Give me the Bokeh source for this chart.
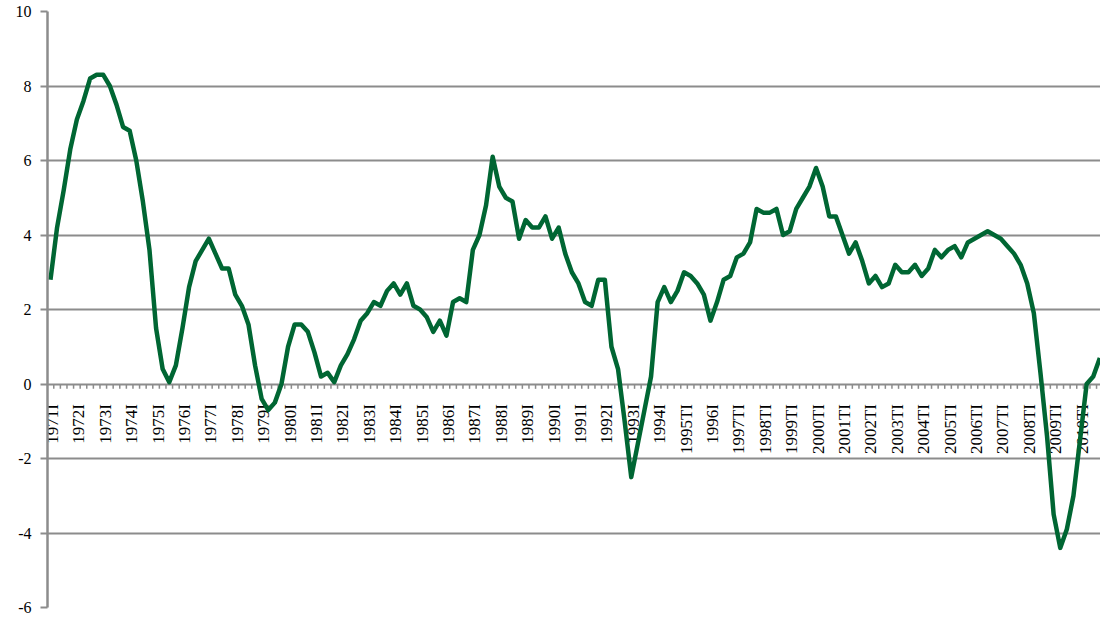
import numpy as np
from bokeh.plotting import figure
from bokeh.models import FixedTicker, Range1d, PrintfTickFormatter
from bokeh.embed import file_html
from bokeh.resources import INLINE
from bokeh.core.properties import value

# Quarterly values (one per quarter, starting 1971 TI)
growth_1971_1980 = [2.8, 4.2, 5.2, 6.3,
                    7.1, 7.6, 8.2, 8.3,
                    8.3, 8.0, 7.5, 6.9,
                    6.8, 6.0, 4.9, 3.6,
                    1.5, 0.4, 0.05, 0.5,
                    1.5, 2.6, 3.3, 3.6,
                    3.9, 3.5, 3.1, 3.1,
                    2.4, 2.1, 1.6, 0.5,
                    -0.4, -0.7, -0.5, 0.0,
                    1.0, 1.6, 1.6, 1.4]
growth_1981_1990 = [0.85, 0.2, 0.3, 0.05,
                    0.5, 0.8, 1.2, 1.7,
                    1.9, 2.2, 2.1, 2.5,
                    2.7, 2.4, 2.7, 2.1,
                    2.0, 1.8, 1.4, 1.7,
                    1.3, 2.2, 2.3, 2.2,
                    3.6, 4.0, 4.8, 6.1,
                    5.3, 5.0, 4.9, 3.9,
                    4.4, 4.2, 4.2, 4.5,
                    3.9, 4.2, 3.5, 3.0]
growth_1991_2000 = [2.7, 2.2, 2.1, 2.8,
                    2.8, 1.0, 0.4, -1.0,
                    -2.5, -1.6, -0.7, 0.2,
                    2.2, 2.6, 2.2, 2.5,
                    3.0, 2.9, 2.7, 2.4,
                    1.7, 2.2, 2.8, 2.9,
                    3.4, 3.5, 3.8, 4.7,
                    4.6, 4.6, 4.7, 4.0,
                    4.1, 4.7, 5.0, 5.3,
                    5.8, 5.3, 4.5, 4.5]
growth_2001_2010 = [4.0, 3.5, 3.8, 3.3,
                    2.7, 2.9, 2.6, 2.7,
                    3.2, 3.0, 3.0, 3.2,
                    2.9, 3.1, 3.6, 3.4,
                    3.6, 3.7, 3.4, 3.8,
                    3.9, 4.0, 4.1, 4.0,
                    3.9, 3.7, 3.5, 3.2,
                    2.7, 1.9, 0.3, -1.4,
                    -3.5, -4.4, -3.9, -3.0,
                    -1.5, 0.0, 0.2, 0.7]

tick_labels = ["1971I", "1972I", "1973I", "1974I", "1975I", "1976I", "1977I",
               "1978I", "1979I", "1980I", "1981I", "1982I", "1983I", "1984I",
               "1985I", "1986I", "1987I", "1988I", "1989I", "1990I", "1991I",
               "1992I", "1993I", "1994I", "1995TI", "1996I", "1997TI", "1998TI",
               "1999TI", "2000TI", "2001TI", "2002TI", "2003TI", "2004TI",
               "2005TI", "2006TI", "2007TI", "2008TI", "2009TI", "2010TI"]
y_ticks = [-6, -4, -2, 0, 2, 4, 6, 8, 10]

growth = growth_1971_1980 + growth_1981_1990 + growth_1991_2000 + growth_2001_2010
n = len(growth)
quarter_index = list(range(n))
label_index = [4 * i for i in range(len(tick_labels))]
boundaries = [i - 0.5 for i in range(n + 1)]

GRID = "#8c8c8c"
FONT = "Liberation Serif"

p = figure(width=1100, height=617, output_backend="svg", toolbar_location=None,
           x_range=Range1d(-0.45, n - 0.9), y_range=Range1d(-6, 10),
           x_axis_location=None,
           min_border_left=47, min_border_right=0, min_border_top=11, min_border_bottom=10)
p.outline_line_color = None
p.background_fill_color = "white"
p.border_fill_color = "white"

p.xgrid.visible = False
p.ygrid.ticker = FixedTicker(ticks=y_ticks)
p.ygrid.grid_line_color = GRID
p.ygrid.grid_line_width = 2

ax = p.yaxis[0]
ax.ticker = FixedTicker(ticks=y_ticks)
ax.formatter = PrintfTickFormatter(format="%d")
ax.axis_line_color = GRID
ax.axis_line_width = 2.5
ax.major_tick_line_color = GRID
ax.major_tick_line_width = 2
ax.major_tick_out = 7
ax.major_tick_in = 0
ax.minor_tick_line_color = None
ax.major_label_text_font = FONT
ax.major_label_text_font_size = "16px"
ax.major_label_text_color = "black"
ax.major_label_standoff = 9

# category tick marks along the zero line
p.segment(x0=boundaries, y0=[0] * len(boundaries), x1=boundaries,
          y1=[-0.13] * len(boundaries), line_color=GRID, line_width=1.5)

# category labels (rotated) just below the zero line
p.text(x=label_index, y=[0] * len(label_index), text=tick_labels,
       angle=np.pi / 2, text_align="right", text_baseline="middle",
       x_offset=2, y_offset=20, text_font=value(FONT), text_font_size="17px",
       text_color="black")

p.line(quarter_index, growth, line_color="#006633", line_width=4.5,
       line_join="round")

open("out.html", "w").write(file_html(p, INLINE))
